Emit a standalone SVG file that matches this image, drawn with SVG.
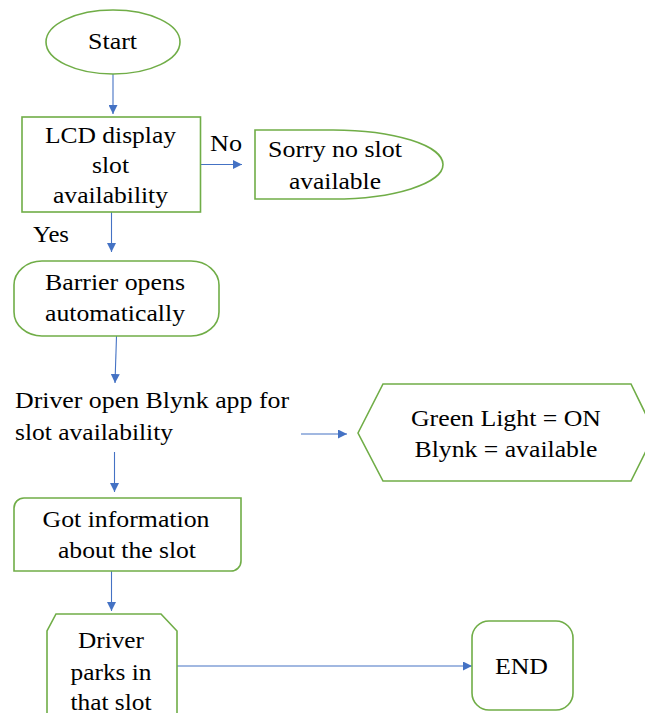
<svg xmlns="http://www.w3.org/2000/svg" width="645" height="713" viewBox="0 0 645 713" font-family="'Liberation Serif', 'DejaVu Serif', serif">
<style>
.n{fill:#ffffff;stroke:#70AD47;stroke-width:1.6}
.c{fill:none;stroke:#4472C4;stroke-width:1.1}
text{font-family:'Liberation Serif','DejaVu Serif',serif;font-size:24px;fill:#000}
.m{text-anchor:middle}
</style>
<defs>
<marker id="ah" viewBox="0 0 10 10" refX="10" refY="5" markerWidth="9" markerHeight="9" markerUnits="userSpaceOnUse" orient="auto">
<path d="M0,0 L10,5 L0,10 z" fill="#4472C4"/>
</marker>
</defs>
<rect width="645" height="713" fill="#ffffff"/>
<g id="connectors">
<line class="c" x1="113" y1="74" x2="113" y2="114" marker-end="url(#ah)"/>
<line class="c" x1="201" y1="164.5" x2="242" y2="164.5" marker-end="url(#ah)"/>
<line class="c" x1="111.5" y1="212" x2="111.5" y2="252" marker-end="url(#ah)"/>
<line class="c" x1="116.5" y1="336" x2="115" y2="383" marker-end="url(#ah)"/>
<line class="c" x1="301" y1="434" x2="347" y2="434" marker-end="url(#ah)"/>
<line class="c" x1="114.5" y1="452" x2="114.5" y2="492" marker-end="url(#ah)"/>
<line class="c" x1="111.5" y1="571" x2="111.5" y2="611" marker-end="url(#ah)"/>
<line class="c" x1="177" y1="666" x2="472" y2="666" marker-end="url(#ah)"/>
<text x="210" y="151" textLength="32" lengthAdjust="spacingAndGlyphs">No</text>
<text x="33" y="242" textLength="36" lengthAdjust="spacingAndGlyphs">Yes</text>
</g>
<g id="start">
<ellipse class="n" cx="113" cy="42" rx="67" ry="32"/>
<text class="m" x="112.5" y="49" textLength="49" lengthAdjust="spacingAndGlyphs">Start</text>
</g>
<g id="lcd">
<rect class="n" x="22" y="117" width="178.5" height="95"/>
<text class="m" x="110.5" y="143" textLength="131" lengthAdjust="spacingAndGlyphs">LCD display</text>
<text class="m" x="110.5" y="173" textLength="37" lengthAdjust="spacingAndGlyphs">slot</text>
<text class="m" x="110.5" y="203" textLength="115" lengthAdjust="spacingAndGlyphs">availability</text>
</g>
<g id="sorry">
<path class="n" d="M255,130 H333 A110,34.5 0 0 1 333,199 H255 Z"/>
<text class="m" x="335" y="157" textLength="134" lengthAdjust="spacingAndGlyphs">Sorry no slot</text>
<text class="m" x="335" y="189" textLength="92" lengthAdjust="spacingAndGlyphs">available</text>
</g>
<g id="barrier">
<rect class="n" x="14" y="261" width="205" height="75" rx="28" ry="24"/>
<text class="m" x="115" y="290" textLength="140" lengthAdjust="spacingAndGlyphs">Barrier opens</text>
<text class="m" x="115" y="321" textLength="140" lengthAdjust="spacingAndGlyphs">automatically</text>
</g>
<g id="blynk-open">
<text x="15" y="408" textLength="274" lengthAdjust="spacingAndGlyphs">Driver open Blynk app for</text>
<text x="15" y="440" textLength="158" lengthAdjust="spacingAndGlyphs">slot availability</text>
</g>
<g id="green-light">
<path class="n" d="M358,433 L383,384 H631 L655,433 L631,481 H383 Z"/>
<text class="m" x="506" y="426" textLength="190" lengthAdjust="spacingAndGlyphs">Green Light = ON</text>
<text class="m" x="506" y="457" textLength="183" lengthAdjust="spacingAndGlyphs">Blynk = available</text>
</g>
<g id="got-info">
<path class="n" d="M24,498 H241 V561 A10,10 0 0 1 231,571 H14 V508 A10,10 0 0 1 24,498 Z"/>
<text class="m" x="126" y="527" textLength="167" lengthAdjust="spacingAndGlyphs">Got information</text>
<text class="m" x="127" y="558" textLength="138" lengthAdjust="spacingAndGlyphs">about the slot</text>
</g>
<g id="parks">
<path class="n" d="M47,720 V631 L56,614 H161 L177,631 V720"/>
<text class="m" x="111" y="648" textLength="66" lengthAdjust="spacingAndGlyphs">Driver</text>
<text class="m" x="111" y="680" textLength="81" lengthAdjust="spacingAndGlyphs">parks in</text>
<text class="m" x="111" y="710" textLength="81" lengthAdjust="spacingAndGlyphs">that slot</text>
</g>
<g id="end">
<rect class="n" x="472" y="621" width="101" height="89" rx="17"/>
<text class="m" x="521.5" y="674" textLength="53" lengthAdjust="spacingAndGlyphs">END</text>
</g>
</svg>
